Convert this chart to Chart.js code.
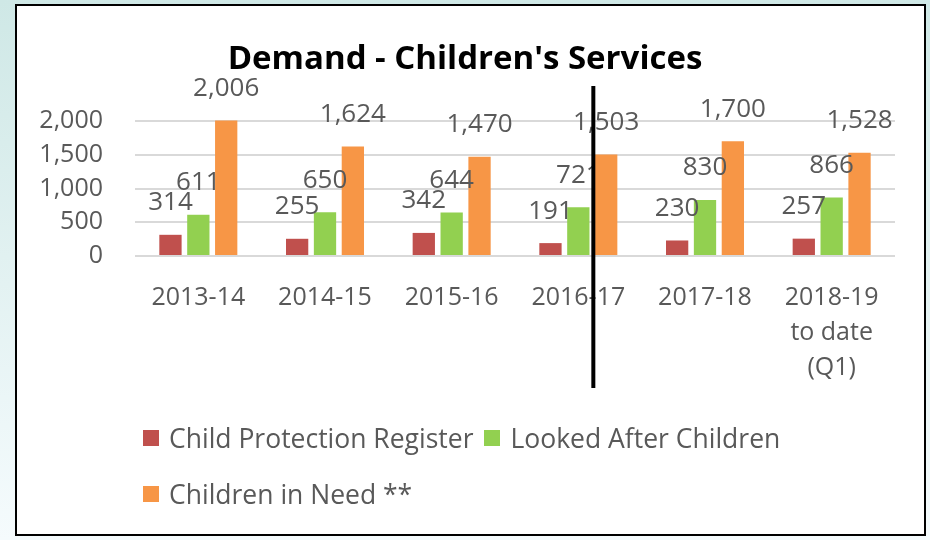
<!DOCTYPE html>
<html>
<head>
<meta charset="utf-8">
<script src="https://cdn.jsdelivr.net/npm/chart.js@4.4.0/dist/chart.umd.min.js"></script>
<style>
  html,body{margin:0;padding:0;}
  body{width:930px;height:540px;position:relative;overflow:hidden;
       background:linear-gradient(to bottom,#cfe8e6,#f5fbfd);}
  #frame{position:absolute;left:15px;top:4px;width:911px;height:532px;box-sizing:border-box;
         border:2.5px solid #000;background:#fff;}
  #wrap{position:absolute;left:17px;top:6px;width:900px;height:424px;}
  #legend{position:absolute;left:143px;top:410px;width:680px;display:flex;flex-wrap:wrap;
          font-family:"Open Sans",sans-serif;font-size:26.5px;color:#595959;}
  .item{display:flex;align-items:center;height:56px;margin-right:11px;}
  .box{width:16px;height:16px;margin-right:10px;}
</style>
</head>
<body>
<div id="frame"></div>
<div id="wrap"><canvas id="chart" width="900" height="424"></canvas></div>
<div id="legend"></div>
<script>
const years = ["2013-14", "2014-15", "2015-16", "2016-17", "2017-18", ["2018-19", "to date", "(Q1)"]];
const childProtection = [314, 255, 342, 191, 230, 257];
const lookedAfter = [611, 650, 644, 721, 830, 866];
const childrenInNeed = [2006, 1624, 1470, 1503, 1700, 1528];
const yTicks = [0, 500, 1000, 1500, 2000];

const seriesNames = ["Child Protection Register", "Looked After Children", "Children in Need **"];
const seriesColors = ["#c0504d", "#92d050", "#f79646"];

const gray = "#595959";

// value labels above each bar
const valueLabels = {
    id: "valueLabels",
    afterDatasetsDraw(chart){
        const ctx = chart.ctx;
        ctx.save();
        ctx.font = "26px 'Open Sans'";
        ctx.fillStyle = gray;
        ctx.textAlign = "center";
        ctx.textBaseline = "middle";
        chart.data.datasets.forEach((ds, i)=>{
            chart.getDatasetMeta(i).data.forEach((bar, j)=>{
                ctx.fillText(ds.data[j].toLocaleString("en-US"), bar.x, bar.y - 32);
            });
        });
        ctx.restore();
    }
};

// black separator line drawn over the 2016-17 group
const divider = {
    id: "divider",
    afterDraw(chart){
        const ctx = chart.ctx;
        const x = chart.scales.x.getPixelForValue(3) + 15;
        ctx.save();
        ctx.strokeStyle = "#000";
        ctx.lineWidth = 4;
        ctx.beginPath();
        ctx.moveTo(x, chart.chartArea.top - 35);
        ctx.lineTo(x, chart.chartArea.bottom + 132);
        ctx.stroke();
        ctx.restore();
    }
};

const chart = new Chart(document.getElementById("chart"), {
    type: "bar",
    data: {
        labels: years,
        datasets: [childProtection, lookedAfter, childrenInNeed].map((d, i)=>({
            label: seriesNames[i],
            data: d,
            backgroundColor: seriesColors[i],
            categoryPercentage: 0.66,
            barPercentage: 0.8,
            clip: false
        }))
    },
    options: {
        responsive: false,
        animation: false,
        layout: { padding: { left: 18, right: 22, top: 0, bottom: 21 } },
        plugins: {
            legend: { display: false },
            tooltip: { enabled: false },
            title: {
                display: true,
                text: "Demand - Children's Services",
                color: "#000",
                font: { family: "Open Sans", size: 33, weight: "bold", lineHeight: 1.2 },
                padding: { top: 34, bottom: 41.4 }
            }
        },
        scales: {
            x: {
                grid: { display: false, drawTicks: false },
                border: { display: false },
                ticks: {
                    color: gray, padding: 24, maxRotation: 0, autoSkip: false,
                    font: { family: "Open Sans", size: 25, lineHeight: 1.4 }
                }
            },
            y: {
                min: 0, max: 2000,
                afterFit(scale){ scale.width = 100; },
                afterBuildTicks(scale){ scale.ticks = yTicks.map(v=>({value: v})); },
                grid: { color: "#d9d9d9", lineWidth: 2, drawTicks: false },
                border: { display: false },
                ticks: {
                    color: gray, padding: 32, autoSkip: false,
                    font: { family: "Open Sans", size: 25 },
                    callback: v => v.toLocaleString("en-US")
                }
            }
        }
    },
    plugins: [valueLabels, divider]
});

// legend, left aligned like the original
const legendDiv = document.getElementById("legend");
chart.data.datasets.forEach(ds=>{
    const item = document.createElement("div");
    item.className = "item";
    item.innerHTML = `<span class="box" style="background:${ds.backgroundColor}"></span>${ds.label}`;
    legendDiv.appendChild(item);
});
</script>
</body>
</html>
